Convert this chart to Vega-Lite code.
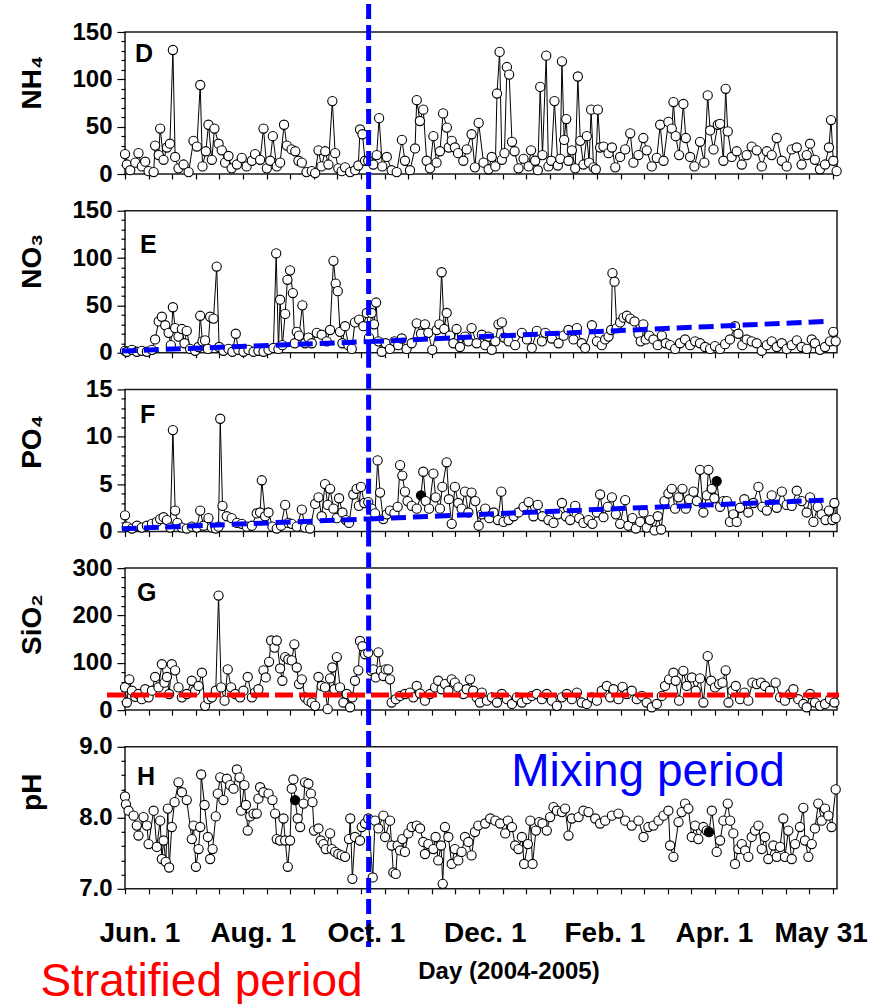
{
  "$schema": "https://vega.github.io/schema/vega-lite/v6.json",
  "background": "white",
  "padding": {"left": 17, "top": 0, "right": 0, "bottom": 0},
  "bounds": "flush",
  "spacing": 36.7,
  "config": {
    "view": {"stroke": "#1a1a1a", "strokeWidth": 1.5},
    "axis": {
      "labelFont": "Liberation Sans", "labelFontWeight": "bold", "labelFontSize": 24, "labelColor": "black",
      "titleFont": "Liberation Sans", "titleFontWeight": "bold", "titleFontSize": 28, "titleColor": "black",
      "tickColor": "black", "tickWidth": 1.2, "grid": false, "domain": false,
      "labelOverlap": false, "labelFlush": false, "labelBound": false
    },
    "text": {"font": "Liberation Sans"}
  },
  "datasets": {
    "nh4": [
      {"d":-8,"v":21},{"d":-7,"v":10},{"d":-5.2,"v":4},{"d":-2.5,"v":12},{"d":-0.8,"v":22},{"d":1,"v":8},{"d":2.8,"v":13},{"d":4.6,"v":3},{"d":7.3,"v":2},{"d":8.1,"v":30},
      {"d":10,"v":20},{"d":10.8,"v":48},{"d":12.6,"v":15},{"d":14.4,"v":28},{"d":16,"v":32},{"d":17.6,"v":131},{"d":18.8,"v":18},{"d":20.6,"v":6},{"d":23.3,"v":10},{"d":26,"v":2},
      {"d":28.6,"v":35},{"d":30.4,"v":29},{"d":32.2,"v":94},{"d":33.4,"v":8},{"d":35.2,"v":24},{"d":36.6,"v":52},{"d":38.4,"v":15},{"d":39.8,"v":48},{"d":42,"v":32},{"d":43.7,"v":25},
      {"d":45.5,"v":12},{"d":47.3,"v":19},{"d":49,"v":6},{"d":51.8,"v":10},{"d":54.4,"v":17},{"d":57,"v":8},{"d":59.8,"v":14},{"d":61.5,"v":21},{"d":64.2,"v":15},{"d":66,"v":48},
      {"d":67.8,"v":6},{"d":69.6,"v":14},{"d":71,"v":40},{"d":73.1,"v":8},{"d":74.9,"v":12},{"d":77,"v":52},{"d":78.5,"v":30},{"d":81,"v":26},{"d":83,"v":24},{"d":84.7,"v":14},
      {"d":86.5,"v":12},{"d":89,"v":2},{"d":91.8,"v":3},{"d":93.6,"v":1},{"d":95.4,"v":25},{"d":97,"v":8},{"d":99,"v":24},{"d":100.7,"v":10},{"d":102.8,"v":77},{"d":104.3,"v":22},
      {"d":106,"v":6},{"d":107.8,"v":3},{"d":109.6,"v":7},{"d":112.3,"v":2},{"d":115,"v":4},{"d":116.7,"v":9},{"d":117.6,"v":47},{"d":118.9,"v":42},{"d":120.3,"v":14},{"d":122,"v":14},
      {"d":124.7,"v":10},{"d":126.5,"v":20},{"d":127.8,"v":59},{"d":129.5,"v":8},{"d":131.9,"v":18},{"d":134.5,"v":4},{"d":137.2,"v":2},{"d":140,"v":36},{"d":141.6,"v":14},{"d":144.3,"v":4},
      {"d":147,"v":27},{"d":147.9,"v":78},{"d":149.6,"v":56},{"d":151.4,"v":68},{"d":153.2,"v":14},{"d":155,"v":6},{"d":156.8,"v":40},{"d":158.5,"v":12},{"d":160.3,"v":24},{"d":162,"v":64},
      {"d":164,"v":49},{"d":165,"v":28},{"d":166.6,"v":35},{"d":168.3,"v":28},{"d":170,"v":22},{"d":172.8,"v":14},{"d":174.6,"v":26},{"d":177.2,"v":42},{"d":179,"v":7},{"d":181,"v":54},
      {"d":183.6,"v":12},{"d":186.3,"v":5},{"d":188,"v":18},{"d":189.9,"v":8},{"d":190.8,"v":85},{"d":192.2,"v":129},{"d":193.4,"v":15},{"d":194.8,"v":22},{"d":196.1,"v":113},{"d":197.3,"v":105},
      {"d":198.8,"v":34},{"d":200.2,"v":24},{"d":202.3,"v":6},{"d":205,"v":16},{"d":207.7,"v":8},{"d":209,"v":25},{"d":211.2,"v":14},{"d":212.6,"v":4},{"d":213.9,"v":92},{"d":215.1,"v":20},
      {"d":217.1,"v":125},{"d":218.3,"v":8},{"d":219.8,"v":14},{"d":221.5,"v":77},{"d":223.3,"v":9},{"d":224.6,"v":16},{"d":225.5,"v":119},{"d":226.7,"v":36},{"d":227.8,"v":58},{"d":229,"v":14},
      {"d":230.8,"v":25},{"d":232.6,"v":6},{"d":234,"v":103},{"d":235.3,"v":35},{"d":237,"v":10},{"d":238.8,"v":40},{"d":240,"v":12},{"d":241.1,"v":68},{"d":242.4,"v":7},{"d":243.6,"v":5},
      {"d":244.7,"v":68},{"d":245.9,"v":28},{"d":247.7,"v":29},{"d":250.4,"v":22},{"d":252.2,"v":28},{"d":254,"v":7},{"d":256.6,"v":18},{"d":259.3,"v":26},{"d":262,"v":43},{"d":263.7,"v":12},
      {"d":266.4,"v":20},{"d":269,"v":38},{"d":270.8,"v":25},{"d":273.5,"v":8},{"d":276.2,"v":17},{"d":278,"v":52},{"d":279.8,"v":14},{"d":282.4,"v":55},{"d":284.2,"v":48},{"d":285.1,"v":76},
      {"d":286.3,"v":40},{"d":288.1,"v":20},{"d":290.4,"v":74},{"d":291.7,"v":38},{"d":294,"v":18},{"d":296.3,"v":8},{"d":299.3,"v":34},{"d":301.6,"v":12},{"d":303.4,"v":83},{"d":304.7,"v":46},
      {"d":306.5,"v":26},{"d":308.8,"v":52},{"d":310,"v":53},{"d":311.8,"v":14},{"d":313,"v":90},{"d":314.1,"v":45},{"d":316.2,"v":18},{"d":318.9,"v":24},{"d":321.6,"v":10},{"d":324.2,"v":20},
      {"d":326.9,"v":29},{"d":329.6,"v":25},{"d":332.3,"v":8},{"d":335,"v":24},{"d":337.6,"v":20},{"d":340.3,"v":38},{"d":343,"v":14},{"d":345.6,"v":8},{"d":348.3,"v":26},{"d":351,"v":28},
      {"d":353.6,"v":10},{"d":356.3,"v":20},{"d":358.1,"v":32},{"d":360.7,"v":15},{"d":363.4,"v":5},{"d":366.1,"v":10},{"d":368.2,"v":28},{"d":369.3,"v":57},{"d":370.5,"v":14},{"d":372.3,"v":3}
    ],
    "no3": [
      {"d":-8,"v":2},{"d":-7,"v":1},{"d":-4.3,"v":3},{"d":-1.6,"v":1},{"d":1,"v":2},{"d":3.7,"v":1},{"d":6.4,"v":3},{"d":8.1,"v":14},{"d":10,"v":33},{"d":11.7,"v":38},
      {"d":13.5,"v":29},{"d":15.3,"v":21},{"d":16.5,"v":8},{"d":17.6,"v":48},{"d":18.8,"v":26},{"d":20.6,"v":17},{"d":22.4,"v":25},{"d":23.8,"v":10},{"d":25,"v":23},{"d":26.8,"v":4},
      {"d":29.5,"v":2},{"d":31.3,"v":6},{"d":32.2,"v":39},{"d":33.4,"v":12},{"d":34.8,"v":13},{"d":36.3,"v":4},{"d":37.5,"v":38},{"d":39.3,"v":36},{"d":41,"v":91},{"d":42.3,"v":6},
      {"d":44.6,"v":2},{"d":47.3,"v":4},{"d":49.4,"v":1},{"d":51.2,"v":20},{"d":52.6,"v":3},{"d":55.3,"v":1},{"d":58,"v":3},{"d":60.7,"v":1},{"d":63.3,"v":2},{"d":66,"v":1},
      {"d":68.7,"v":3},{"d":71.3,"v":5},{"d":72.8,"v":105},{"d":74,"v":4},{"d":74.9,"v":56},{"d":76.1,"v":8},{"d":77.6,"v":41},{"d":78.8,"v":77},{"d":80.2,"v":87},{"d":81.7,"v":63},
      {"d":82.7,"v":10},{"d":83.8,"v":22},{"d":85,"v":18},{"d":86.8,"v":50},{"d":88.2,"v":10},{"d":90,"v":16},{"d":91.8,"v":10},{"d":94.5,"v":21},{"d":97.1,"v":19},{"d":99.8,"v":12},
      {"d":101.6,"v":24},{"d":103.4,"v":97},{"d":104.6,"v":73},{"d":105.7,"v":65},{"d":106.9,"v":22},{"d":108.2,"v":10},{"d":109.6,"v":28},{"d":111.4,"v":8},{"d":113.2,"v":4},{"d":114.9,"v":32},
      {"d":117.1,"v":35},{"d":119.4,"v":28},{"d":121.2,"v":42},{"d":122.4,"v":16},{"d":123.8,"v":42},{"d":125.1,"v":30},{"d":126.2,"v":53},{"d":127.4,"v":12},{"d":129.2,"v":1},{"d":131.3,"v":10},
      {"d":133.6,"v":4},{"d":136,"v":12},{"d":138,"v":8},{"d":139.9,"v":15},{"d":142.5,"v":4},{"d":145.2,"v":10},{"d":147.9,"v":31},{"d":150.2,"v":20},{"d":152.3,"v":30},{"d":154.1,"v":21},
      {"d":156.2,"v":3},{"d":158.6,"v":24},{"d":160,"v":30},{"d":161.2,"v":85},{"d":162.6,"v":25},{"d":163.9,"v":42},{"d":165.7,"v":18},{"d":167.5,"v":10},{"d":169.2,"v":25},{"d":171,"v":6},
      {"d":173.7,"v":17},{"d":175.5,"v":12},{"d":177.2,"v":26},{"d":179.9,"v":10},{"d":182.7,"v":19},{"d":184.5,"v":8},{"d":186.3,"v":17},{"d":188,"v":3},{"d":189.9,"v":12},{"d":191.6,"v":30},
      {"d":193.4,"v":32},{"d":194.7,"v":16},{"d":197,"v":12},{"d":200.5,"v":8},{"d":204.1,"v":21},{"d":206.8,"v":14},{"d":209.4,"v":5},{"d":212.1,"v":23},{"d":214.8,"v":12},{"d":216.6,"v":21},
      {"d":220.1,"v":15},{"d":223.7,"v":10},{"d":226.4,"v":18},{"d":229,"v":24},{"d":231.7,"v":14},{"d":233.5,"v":26},{"d":236.1,"v":10},{"d":237.9,"v":5},{"d":241.5,"v":29},{"d":244.2,"v":12},
      {"d":246.8,"v":8},{"d":248.6,"v":14},{"d":250.4,"v":17},{"d":251.8,"v":24},{"d":252.5,"v":84},{"d":253.6,"v":75},{"d":254.8,"v":26},{"d":256.6,"v":32},{"d":258.4,"v":37},{"d":260.2,"v":39},
      {"d":262,"v":36},{"d":264.3,"v":33},{"d":266.4,"v":20},{"d":267.6,"v":12},{"d":269,"v":30},{"d":270.3,"v":14},{"d":272.1,"v":18},{"d":274.4,"v":14},{"d":276.7,"v":8},{"d":278.9,"v":18},
      {"d":281,"v":10},{"d":283.3,"v":8},{"d":286,"v":4},{"d":288.6,"v":10},{"d":291.3,"v":14},{"d":294,"v":8},{"d":296.7,"v":12},{"d":299.3,"v":10},{"d":302,"v":6},{"d":304.7,"v":4},
      {"d":307.3,"v":7},{"d":310,"v":4},{"d":312.7,"v":9},{"d":315.3,"v":14},{"d":318,"v":28},{"d":319.8,"v":20},{"d":321.9,"v":8},{"d":324.2,"v":14},{"d":326.9,"v":12},{"d":329.6,"v":10},
      {"d":332.3,"v":2},{"d":335,"v":8},{"d":337.6,"v":12},{"d":340.3,"v":6},{"d":343,"v":10},{"d":345.6,"v":4},{"d":348.3,"v":8},{"d":351,"v":13},{"d":353.6,"v":6},{"d":356.3,"v":4},
      {"d":359,"v":14},{"d":360.7,"v":10},{"d":363.4,"v":3},{"d":366.1,"v":6},{"d":368.8,"v":12},{"d":370.5,"v":22},{"d":371.8,"v":12}
    ],
    "po4": [
      {"d":-8,"v":1.7},{"d":-7,"v":0.5},{"d":-4.3,"v":0.3},{"d":-1.6,"v":0.6},{"d":1,"v":0.4},{"d":3.7,"v":0.6},{"d":6.4,"v":0.8},{"d":9,"v":1.0},{"d":10.8,"v":1.3},{"d":12.6,"v":1.5},
      {"d":14.4,"v":1.2},{"d":16.2,"v":0.4},{"d":17.6,"v":10.7},{"d":18.8,"v":2.2},{"d":20,"v":0.9},{"d":22.4,"v":0.4},{"d":25,"v":0.3},{"d":27.7,"v":0.5},{"d":30.4,"v":0.4},{"d":32.2,"v":2.2},
      {"d":34,"v":0.6},{"d":36.6,"v":1.4},{"d":38.4,"v":0.4},{"d":40.5,"v":0.3},{"d":42,"v":0.5},{"d":42.9,"v":11.9},{"d":44.1,"v":2.7},{"d":46.4,"v":1.6},{"d":49,"v":1.4},{"d":51.8,"v":0.9},
      {"d":54.4,"v":0.8},{"d":57.1,"v":0.5},{"d":59.8,"v":0.6},{"d":62.4,"v":1.9},{"d":64.2,"v":2.0},{"d":65.1,"v":5.4},{"d":66.9,"v":1.6},{"d":68.7,"v":2.0},{"d":70.8,"v":0.5},{"d":73.1,"v":0.3},
      {"d":75.4,"v":0.6},{"d":77.6,"v":2.8},{"d":79.3,"v":0.9},{"d":81.1,"v":0.8},{"d":83.8,"v":0.5},{"d":86.5,"v":2.3},{"d":88.2,"v":0.4},{"d":90.9,"v":0.3},{"d":93.6,"v":2.9},{"d":95.4,"v":3.6},
      {"d":97.1,"v":1.6},{"d":98.9,"v":5.0},{"d":100.3,"v":2.8},{"d":101.6,"v":4.5},{"d":103.4,"v":2.4},{"d":105.2,"v":1.4},{"d":106.4,"v":3.5},{"d":108.2,"v":2.0},{"d":110,"v":1.2},{"d":111.7,"v":0.9},
      {"d":114,"v":3.9},{"d":115.8,"v":4.5},{"d":117,"v":2.7},{"d":118.1,"v":4.7},{"d":119.9,"v":3.0},{"d":122,"v":3.1},{"d":123.8,"v":2.4},{"d":125.6,"v":1.9},{"d":127,"v":7.5},{"d":128.3,"v":4.1},
      {"d":130,"v":1.3},{"d":131.9,"v":1.8},{"d":133.6,"v":2.2},{"d":136,"v":1.9},{"d":137.7,"v":2.6},{"d":139,"v":7.0},{"d":140.2,"v":5.9},{"d":141.6,"v":4.2},{"d":143,"v":3.2},{"d":145.2,"v":2.7},
      {"d":147.9,"v":2.4},{"d":150.2,"v":3.8,"k":1},{"d":151.4,"v":6.3},{"d":152.7,"v":3.2},{"d":154.5,"v":2.4},{"d":156.8,"v":6.1},{"d":158,"v":3.6},{"d":160.3,"v":2.4},{"d":161.6,"v":4.7},{"d":163.9,"v":7.3},
      {"d":165.1,"v":3.4},{"d":166.6,"v":0.8},{"d":168.3,"v":4.7},{"d":170.1,"v":3.0},{"d":171.9,"v":2.4},{"d":173.7,"v":4.2},{"d":175.5,"v":2.0},{"d":177.2,"v":4.1},{"d":179.2,"v":3.2},{"d":181,"v":0.6},
      {"d":182.7,"v":1.8},{"d":184.5,"v":2.4},{"d":186.7,"v":1.4},{"d":189,"v":2.0},{"d":191.3,"v":1.2},{"d":193.1,"v":4.2},{"d":194.3,"v":1.0},{"d":197,"v":1.2},{"d":199.7,"v":1.6},{"d":202.3,"v":2.0},
      {"d":205,"v":2.6},{"d":207.7,"v":3.1},{"d":210.3,"v":1.6},{"d":212.6,"v":2.8},{"d":215.1,"v":1.6},{"d":218.3,"v":1.2},{"d":221,"v":0.9},{"d":223.3,"v":1.8},{"d":225.5,"v":3.0},{"d":227.6,"v":1.6},
      {"d":229.9,"v":1.2},{"d":232.6,"v":2.7},{"d":234.7,"v":1.4},{"d":237,"v":0.9},{"d":239.7,"v":1.2},{"d":241.8,"v":0.8},{"d":244.2,"v":2.0},{"d":245.9,"v":3.9},{"d":247.7,"v":1.5},{"d":250,"v":2.6},
      {"d":252.2,"v":3.6},{"d":254.3,"v":1.8},{"d":256.6,"v":0.8},{"d":259.3,"v":3.3},{"d":261,"v":0.6},{"d":263.2,"v":1.4},{"d":265,"v":0.3},{"d":267.3,"v":1.0},{"d":269.1,"v":2.0},{"d":270.8,"v":0.4},
      {"d":272.6,"v":1.2},{"d":275,"v":0.1},{"d":276.7,"v":1.6},{"d":278.5,"v":0.2},{"d":280.3,"v":3.2},{"d":282.4,"v":4.0},{"d":284.2,"v":4.5},{"d":286,"v":2.4},{"d":287.8,"v":3.6},{"d":289.9,"v":4.5},
      {"d":291.7,"v":2.4},{"d":293.5,"v":3.4},{"d":295.8,"v":4.2},{"d":297.6,"v":3.2},{"d":299.3,"v":6.5},{"d":301.1,"v":2.0},{"d":302.9,"v":3.8},{"d":303.8,"v":6.5},{"d":305.6,"v":4.5},{"d":307,"v":3.5},
      {"d":308.2,"v":5.3,"k":1},{"d":310,"v":2.6},{"d":311.8,"v":3.2},{"d":313.6,"v":3.2},{"d":315.3,"v":1.0},{"d":317.1,"v":1.8},{"d":318.9,"v":1.0},{"d":320.7,"v":2.5},{"d":323,"v":3.4},{"d":325.1,"v":2.0},
      {"d":327.8,"v":3.0},{"d":330.5,"v":4.7},{"d":332.6,"v":2.6},{"d":335,"v":2.2},{"d":337.6,"v":3.8},{"d":340.3,"v":2.5},{"d":343,"v":4.2},{"d":345.6,"v":2.8},{"d":348.3,"v":2.7},{"d":351,"v":4.3},
      {"d":353.6,"v":3.2},{"d":356.3,"v":2.0},{"d":358.1,"v":3.6},{"d":359.9,"v":1.0},{"d":362.2,"v":2.6},{"d":364.3,"v":1.8},{"d":366.4,"v":1.2},{"d":368.2,"v":2.2},{"d":370,"v":1.2},{"d":371.1,"v":3.0},{"d":371.8,"v":1.4}
    ],
    "sio2": [
      {"d":-8,"v":48},{"d":-7,"v":16},{"d":-5.7,"v":65},{"d":-4.3,"v":41},{"d":-2.5,"v":28},{"d":-0.8,"v":34},{"d":1,"v":23},{"d":2.8,"v":44},{"d":4.6,"v":27},{"d":6.4,"v":41},
      {"d":8.1,"v":70},{"d":9.9,"v":48},{"d":11.7,"v":97},{"d":13.1,"v":58},{"d":14.4,"v":70},{"d":15.6,"v":34},{"d":17,"v":97},{"d":18.8,"v":84},{"d":20.6,"v":48},{"d":22.4,"v":27},
      {"d":25,"v":34},{"d":27.7,"v":62},{"d":29.5,"v":41},{"d":31.3,"v":51},{"d":33.1,"v":79},{"d":34.8,"v":9},{"d":36.6,"v":23},{"d":38.4,"v":27},{"d":40.5,"v":41},{"d":42,"v":242},
      {"d":43.4,"v":48},{"d":45.2,"v":20},{"d":46.9,"v":86},{"d":48.7,"v":48},{"d":50.9,"v":34},{"d":53.5,"v":27},{"d":55.3,"v":41},{"d":57.6,"v":70},{"d":59.8,"v":27},{"d":61.5,"v":37},
      {"d":63.3,"v":44},{"d":66,"v":84},{"d":67.2,"v":69},{"d":69,"v":102},{"d":70.1,"v":147},{"d":71.9,"v":132},{"d":73.1,"v":147},{"d":74.9,"v":88},{"d":76.1,"v":62},{"d":77.6,"v":112},
      {"d":79.3,"v":107},{"d":81.1,"v":105},{"d":82.5,"v":139},{"d":83.8,"v":90},{"d":85,"v":55},{"d":86.5,"v":65},{"d":88.2,"v":27},{"d":90,"v":20},{"d":91.8,"v":16},{"d":93.6,"v":9},
      {"d":95.4,"v":70},{"d":97.1,"v":51},{"d":98.9,"v":48},{"d":100.3,"v":2},{"d":101.6,"v":67},{"d":102.8,"v":90},{"d":103.9,"v":44},{"d":105.2,"v":112},{"d":106.9,"v":48},{"d":108.7,"v":16},
      {"d":110.5,"v":34},{"d":112.3,"v":6},{"d":113.5,"v":27},{"d":114.9,"v":62},{"d":116.7,"v":84},{"d":117.6,"v":146},{"d":118.9,"v":135},{"d":120.3,"v":118},{"d":122,"v":121},{"d":123.5,"v":83},
      {"d":124.7,"v":86},{"d":126,"v":69},{"d":127.4,"v":122},{"d":128.8,"v":83},{"d":130.1,"v":72},{"d":131.3,"v":86},{"d":132.7,"v":86},{"d":133.6,"v":65},{"d":134.5,"v":16},{"d":136.7,"v":23},
      {"d":139,"v":30},{"d":141.6,"v":34},{"d":144.3,"v":37},{"d":146.1,"v":27},{"d":147.9,"v":51},{"d":149.7,"v":35},{"d":152.3,"v":20},{"d":155,"v":34},{"d":157.7,"v":48},{"d":159.4,"v":62},
      {"d":161.2,"v":44},{"d":163,"v":55},{"d":164.8,"v":41},{"d":166.6,"v":65},{"d":168.3,"v":58},{"d":170.1,"v":48},{"d":172.8,"v":34},{"d":174.6,"v":44},{"d":176.4,"v":65},{"d":178.1,"v":41},
      {"d":179.9,"v":27},{"d":181.7,"v":16},{"d":182.7,"v":37},{"d":185.4,"v":20},{"d":188,"v":27},{"d":190.8,"v":16},{"d":193.4,"v":34},{"d":196.1,"v":23},{"d":198.8,"v":13},{"d":201.4,"v":27},
      {"d":204.1,"v":16},{"d":206.8,"v":23},{"d":209.4,"v":30},{"d":212.1,"v":34},{"d":214.8,"v":23},{"d":217.4,"v":34},{"d":220.1,"v":20},{"d":222.8,"v":9},{"d":225.5,"v":27},{"d":228.1,"v":34},
      {"d":230.8,"v":23},{"d":233.5,"v":37},{"d":236.1,"v":16},{"d":238.8,"v":13},{"d":241.5,"v":27},{"d":244.2,"v":20},{"d":246.8,"v":41},{"d":249.5,"v":51},{"d":251.3,"v":27},{"d":253.1,"v":44},
      {"d":255.7,"v":23},{"d":257.9,"v":49},{"d":260.2,"v":34},{"d":262.8,"v":41},{"d":265.5,"v":23},{"d":268.2,"v":30},{"d":270.8,"v":16},{"d":273.5,"v":6},{"d":276.2,"v":13},{"d":278.9,"v":30},
      {"d":280.6,"v":51},{"d":282.8,"v":65},{"d":285.1,"v":79},{"d":286.3,"v":62},{"d":288.1,"v":20},{"d":290.4,"v":83},{"d":292.2,"v":51},{"d":294.9,"v":69},{"d":297,"v":41},{"d":299.3,"v":67},
      {"d":301.1,"v":16},{"d":303.4,"v":114},{"d":305.2,"v":62},{"d":307.3,"v":48},{"d":309.5,"v":55},{"d":311.3,"v":58},{"d":313,"v":84},{"d":314.5,"v":16},{"d":316.6,"v":41},{"d":318.4,"v":51},
      {"d":320.7,"v":23},{"d":323,"v":37},{"d":325.1,"v":20},{"d":327.3,"v":58},{"d":329.6,"v":55},{"d":331.9,"v":58},{"d":334,"v":51},{"d":336.7,"v":41},{"d":339.7,"v":58},{"d":342.1,"v":27},
      {"d":344.7,"v":20},{"d":347.4,"v":34},{"d":349.2,"v":44},{"d":351.8,"v":23},{"d":354.5,"v":13},{"d":356.3,"v":6},{"d":358.1,"v":34},{"d":360.7,"v":16},{"d":363.4,"v":9},{"d":366.1,"v":13},
      {"d":368.8,"v":23},{"d":371.1,"v":16}
    ],
    "ph": [
      {"d":-8,"v":8.30},{"d":-7.5,"v":8.19},{"d":-6.1,"v":8.10},{"d":-3.4,"v":8.03},{"d":-1.7,"v":7.89},{"d":-0.8,"v":7.75},{"d":1.9,"v":8.01},{"d":3.7,"v":7.89},{"d":4.6,"v":7.63},{"d":7.3,"v":8.10},
      {"d":9,"v":7.59},{"d":10.8,"v":7.96},{"d":11.7,"v":7.42},{"d":12.6,"v":7.68},{"d":13.8,"v":7.38},{"d":14.9,"v":8.13},{"d":15.6,"v":7.30},{"d":17,"v":7.87},{"d":18.5,"v":8.22},{"d":20.6,"v":8.50},
      {"d":22.4,"v":8.36},{"d":25,"v":8.25},{"d":27.7,"v":7.70},{"d":28.6,"v":7.89},{"d":29.9,"v":7.31},{"d":31.3,"v":7.56},{"d":32.2,"v":7.87},{"d":32.7,"v":8.61},{"d":34.5,"v":8.18},{"d":36.3,"v":7.73},
      {"d":37.5,"v":7.42},{"d":38.8,"v":7.56},{"d":40.5,"v":8.02},{"d":41.6,"v":8.34},{"d":42.9,"v":8.57},{"d":44.6,"v":8.25},{"d":46.4,"v":8.55},{"d":48.2,"v":8.46},{"d":50,"v":8.41},{"d":51.8,"v":8.68},
      {"d":53.2,"v":8.57},{"d":54.1,"v":8.10},{"d":55.8,"v":8.46},{"d":56.6,"v":8.18},{"d":57.6,"v":7.82},{"d":58.9,"v":8.02},{"d":60.7,"v":8.06},{"d":62.4,"v":8.06},{"d":63.3,"v":8.27},{"d":64.2,"v":8.43},
      {"d":66,"v":8.36},{"d":68.7,"v":8.34},{"d":70.8,"v":8.25},{"d":72.2,"v":8.06},{"d":73.1,"v":7.70},{"d":74.9,"v":7.68},{"d":76.7,"v":7.99},{"d":77.6,"v":7.68},{"d":79,"v":7.31},{"d":80.2,"v":7.68},
      {"d":81.1,"v":8.41},{"d":82,"v":8.54},{"d":82.9,"v":8.25,"k":1},{"d":84.3,"v":7.99},{"d":85.6,"v":7.87},{"d":87.4,"v":8.20},{"d":88.2,"v":8.50},{"d":90,"v":8.48},{"d":91.3,"v":8.34},{"d":92.2,"v":8.22},
      {"d":93,"v":7.82},{"d":95.4,"v":7.85},{"d":96.6,"v":7.68},{"d":98,"v":7.63},{"d":99.3,"v":7.56},{"d":101.6,"v":7.78},{"d":102.5,"v":7.56},{"d":104.3,"v":7.52},{"d":106,"v":7.49},{"d":107.8,"v":7.47},
      {"d":109.6,"v":7.45},{"d":111.7,"v":7.70},{"d":112.4,"v":7.99},{"d":113.5,"v":7.14},{"d":114.9,"v":7.73},{"d":117.6,"v":7.68},{"d":118.5,"v":7.87},{"d":120.3,"v":7.92},{"d":122,"v":7.99},{"d":124.4,"v":7.16},
      {"d":125.6,"v":7.96},{"d":127.4,"v":7.85},{"d":130.1,"v":8.03},{"d":131,"v":7.73},{"d":133.6,"v":7.96},{"d":134.5,"v":7.61},{"d":135.4,"v":7.23},{"d":136.7,"v":7.21},{"d":137.7,"v":7.61},{"d":139,"v":7.54},
      {"d":140.2,"v":7.70},{"d":141.6,"v":7.52},{"d":143.4,"v":7.78},{"d":145.2,"v":7.87},{"d":147.9,"v":7.89},{"d":149.7,"v":7.85},{"d":151.4,"v":7.66},{"d":152.3,"v":7.49},{"d":154.1,"v":7.63},{"d":156.8,"v":7.56},
      {"d":158,"v":7.73},{"d":159.4,"v":7.40},{"d":160.9,"v":7.61},{"d":161.8,"v":7.07},{"d":163,"v":7.87},{"d":164.8,"v":7.73},{"d":166.6,"v":7.35},{"d":168.3,"v":7.56},{"d":170.1,"v":7.40},{"d":171.9,"v":7.52},
      {"d":173.7,"v":7.73},{"d":175.5,"v":7.66},{"d":177.2,"v":7.47},{"d":179,"v":7.80},{"d":180.8,"v":7.89},{"d":184.5,"v":7.92},{"d":187.2,"v":7.99},{"d":189.9,"v":7.96},{"d":192.5,"v":7.92},{"d":195.2,"v":7.78},
      {"d":196.6,"v":7.96},{"d":198.8,"v":7.87},{"d":200.5,"v":7.61},{"d":202.3,"v":7.56},{"d":204.1,"v":7.73},{"d":205.3,"v":7.35},{"d":207.3,"v":7.63},{"d":208.6,"v":7.96},{"d":209.8,"v":7.35},{"d":211.6,"v":7.82},
      {"d":213.4,"v":7.94},{"d":215.1,"v":7.92},{"d":217.4,"v":7.82},{"d":219.2,"v":8.01},{"d":221,"v":8.15},{"d":222.8,"v":8.10},{"d":225.5,"v":8.08},{"d":227.2,"v":8.13},{"d":229,"v":7.75},{"d":230.8,"v":7.99},
      {"d":234.4,"v":8.01},{"d":237,"v":8.10},{"d":239.7,"v":8.08},{"d":243.3,"v":7.99},{"d":245.9,"v":7.92},{"d":248.6,"v":7.96},{"d":252.2,"v":8.03},{"d":255.7,"v":8.06},{"d":259.3,"v":7.96},{"d":262.8,"v":7.89},
      {"d":266.4,"v":7.96},{"d":269.1,"v":7.73},{"d":271.7,"v":7.87},{"d":274.4,"v":7.89},{"d":277.1,"v":7.96},{"d":279.8,"v":8.03},{"d":282.4,"v":8.10},{"d":283.3,"v":7.61},{"d":285.1,"v":7.45},{"d":287.8,"v":7.94},
      {"d":289.5,"v":8.08},{"d":291.3,"v":8.20},{"d":293.1,"v":8.13},{"d":294.9,"v":7.73},{"d":296.7,"v":7.89},{"d":298.4,"v":7.70},{"d":301.1,"v":7.87},{"d":302.9,"v":7.82},{"d":304.1,"v":7.80,"k":1},{"d":305.6,"v":8.10},
      {"d":308.2,"v":7.52},{"d":310,"v":7.68},{"d":311.8,"v":7.96},{"d":314.1,"v":8.20},{"d":315.4,"v":7.96},{"d":317.1,"v":7.78},{"d":318,"v":7.35},{"d":319.8,"v":7.56},{"d":321.6,"v":7.63},{"d":323.4,"v":7.54},
      {"d":325.1,"v":7.45},{"d":326.9,"v":7.73},{"d":328.7,"v":7.82},{"d":330.5,"v":7.89},{"d":332.3,"v":7.56},{"d":334,"v":7.73},{"d":335.8,"v":7.42},{"d":338.5,"v":7.61},{"d":340.3,"v":7.45},{"d":342.1,"v":7.59},
      {"d":343.8,"v":7.99},{"d":344.7,"v":7.45},{"d":346.5,"v":7.82},{"d":348.3,"v":7.42},{"d":350.1,"v":7.63},{"d":352.7,"v":7.87},{"d":354.5,"v":8.14},{"d":355.4,"v":7.68},{"d":357.2,"v":7.45},{"d":359,"v":7.63},
      {"d":360.7,"v":7.85},{"d":362.5,"v":8.20},{"d":364.3,"v":7.96},{"d":366.1,"v":8.13},{"d":367.9,"v":8.03},{"d":369.6,"v":7.87},{"d":371.8,"v":8.40}
    ]
  },
  "vconcat": [
    {
      "width": 712, "height": 142,
      "encoding": {
        "x": {"field": "d", "type": "quantitative", "scale": {"domain": [-8, 372.5], "nice": false, "zero": false},
              "axis": {"values": [-8,4.61,17.22,29.83,42.44,55.05,67.66,80.27,92.88,105.49,118.1,130.71,143.32,155.93,168.54,181.15,193.76,206.37,218.98,231.59,244.2,256.81,269.42,282.03,294.64,307.25,319.86,332.47,345.08,357.69,370.3], "labels": false, "title": null, "tickSize": 5}},
        "y": {"field": "v", "type": "quantitative", "scale": {"domain": [0, 150], "nice": false, "zero": false},
              "axis": {"values": [0,10,20,30,40,50,60,70,80,90,100,110,120,130,140,150], "labelExpr": "datum.value % 50 == 0 ? datum.label : ''",
                       "tickSize": {"condition": {"test": "datum.value % 50 == 0", "value": 8}, "value": 4}, "labelPadding": 5,
                       "title": "NH₄", "titleAngle": -90, "titleX": -93, "titleY": 50, "titleAlign": "center", "titleBaseline": "middle"}}
      },
      "layer": [
        {"data": {"name": "nh4"}, "mark": {"type": "line", "color": "black", "strokeWidth": 1}},
        {"data": {"name": "nh4"}, "mark": {"type": "point", "shape": "circle", "filled": true, "size": 85, "fill": "white", "stroke": "black", "strokeWidth": 1.1, "opacity": 1}},
        {"data": {"values": [{"d": 122.2, "v": 179.5, "v2": 0}]}, "mark": {"type": "rule", "color": "#0000ff", "strokeWidth": 5, "strokeDash": [15, 6]}, "encoding": {"y2": {"field": "v2"}}},
        {"data": {"values": [{"d": -2.7, "v": 118.3, "t": "D"}]}, "mark": {"type": "text", "fontWeight": "bold", "fontSize": 25, "align": "left", "baseline": "alphabetic", "color": "black"}, "encoding": {"text": {"field": "t"}}}
      ]
    },
    {
      "width": 712, "height": 142,
      "encoding": {
        "x": {"field": "d", "type": "quantitative", "scale": {"domain": [-8, 372.5], "nice": false, "zero": false},
              "axis": {"values": [-8,4.61,17.22,29.83,42.44,55.05,67.66,80.27,92.88,105.49,118.1,130.71,143.32,155.93,168.54,181.15,193.76,206.37,218.98,231.59,244.2,256.81,269.42,282.03,294.64,307.25,319.86,332.47,345.08,357.69,370.3], "labels": false, "title": null, "tickSize": 5}},
        "y": {"field": "v", "type": "quantitative", "scale": {"domain": [0, 150], "nice": false, "zero": false},
              "axis": {"values": [0,10,20,30,40,50,60,70,80,90,100,110,120,130,140,150], "labelExpr": "datum.value % 50 == 0 ? datum.label : ''",
                       "tickSize": {"condition": {"test": "datum.value % 50 == 0", "value": 8}, "value": 4}, "labelPadding": 5,
                       "title": "NO₃", "titleAngle": -90, "titleX": -93, "titleY": 50, "titleAlign": "center", "titleBaseline": "middle"}}
      },
      "layer": [
        {"data": {"name": "no3"}, "mark": {"type": "line", "color": "black", "strokeWidth": 1}},
        {"data": {"name": "no3"}, "mark": {"type": "point", "shape": "circle", "filled": true, "size": 85, "fill": "white", "stroke": "black", "strokeWidth": 1.1, "opacity": 1}},
        {"data": {"values": [{"d": -9.7, "v": 1.8, "d2": 122.4, "v2": 11.7}, {"d": 122.4, "v": 11.7, "d2": 366, "v2": 33}]}, "mark": {"type": "rule", "color": "#0000ff", "strokeWidth": 5, "strokeDash": [15, 7]}, "encoding": {"x2": {"field": "d2"}, "y2": {"field": "v2"}}},
        {"data": {"values": [{"d": 122.2, "v": 188.8, "v2": 0}]}, "mark": {"type": "rule", "color": "#0000ff", "strokeWidth": 5, "strokeDash": [15, 6]}, "encoding": {"y2": {"field": "v2"}}},
        {"data": {"values": [{"d": 0, "v": 105.6, "t": "E"}]}, "mark": {"type": "text", "fontWeight": "bold", "fontSize": 25, "align": "left", "baseline": "alphabetic", "color": "black"}, "encoding": {"text": {"field": "t"}}}
      ]
    },
    {
      "width": 712, "height": 142,
      "encoding": {
        "x": {"field": "d", "type": "quantitative", "scale": {"domain": [-8, 372.5], "nice": false, "zero": false},
              "axis": {"values": [-8,4.61,17.22,29.83,42.44,55.05,67.66,80.27,92.88,105.49,118.1,130.71,143.32,155.93,168.54,181.15,193.76,206.37,218.98,231.59,244.2,256.81,269.42,282.03,294.64,307.25,319.86,332.47,345.08,357.69,370.3], "labels": false, "title": null, "tickSize": 5}},
        "y": {"field": "v", "type": "quantitative", "scale": {"domain": [0, 15], "nice": false, "zero": false},
              "axis": {"values": [0,1,2,3,4,5,6,7,8,9,10,11,12,13,14,15], "labelExpr": "datum.value % 5 == 0 ? datum.label : ''",
                       "tickSize": {"condition": {"test": "datum.value % 5 == 0", "value": 8}, "value": 4}, "labelPadding": 5,
                       "title": "PO₄", "titleAngle": -90, "titleX": -93, "titleY": 52, "titleAlign": "center", "titleBaseline": "middle"}}
      },
      "layer": [
        {"data": {"name": "po4"}, "mark": {"type": "line", "color": "black", "strokeWidth": 1}},
        {"data": {"name": "po4"}, "mark": {"type": "point", "shape": "circle", "filled": true, "size": 85, "stroke": "black", "strokeWidth": 1.1, "opacity": 1},
         "encoding": {"fill": {"condition": {"test": "datum.k == 1", "value": "black"}, "value": "white"}}},
        {"data": {"values": [{"d": -9.7, "v": 0.28, "d2": 122.4, "v2": 1.32}, {"d": 122.4, "v": 1.32, "d2": 366, "v2": 3.3}]}, "mark": {"type": "rule", "color": "#0000ff", "strokeWidth": 5, "strokeDash": [15, 7]}, "encoding": {"x2": {"field": "d2"}, "y2": {"field": "v2"}}},
        {"data": {"values": [{"d": 122.2, "v": 18.88, "v2": 0}]}, "mark": {"type": "rule", "color": "#0000ff", "strokeWidth": 5, "strokeDash": [15, 6]}, "encoding": {"y2": {"field": "v2"}}},
        {"data": {"values": [{"d": 0, "v": 11.5, "t": "F"}]}, "mark": {"type": "text", "fontWeight": "bold", "fontSize": 25, "align": "left", "baseline": "alphabetic", "color": "black"}, "encoding": {"text": {"field": "t"}}}
      ]
    },
    {
      "width": 712, "height": 142,
      "encoding": {
        "x": {"field": "d", "type": "quantitative", "scale": {"domain": [-8, 372.5], "nice": false, "zero": false},
              "axis": {"values": [-8,4.61,17.22,29.83,42.44,55.05,67.66,80.27,92.88,105.49,118.1,130.71,143.32,155.93,168.54,181.15,193.76,206.37,218.98,231.59,244.2,256.81,269.42,282.03,294.64,307.25,319.86,332.47,345.08,357.69,370.3], "labels": false, "title": null, "tickSize": 5}},
        "y": {"field": "v", "type": "quantitative", "scale": {"domain": [0, 300], "nice": false, "zero": false},
              "axis": {"values": [0,20,40,60,80,100,120,140,160,180,200,220,240,260,280,300], "labelExpr": "datum.value % 100 == 0 ? datum.label : ''",
                       "tickSize": {"condition": {"test": "datum.value % 100 == 0", "value": 8}, "value": 4}, "labelPadding": 5,
                       "title": "SiO₂", "titleAngle": -90, "titleX": -93, "titleY": 56, "titleAlign": "center", "titleBaseline": "middle"}}
      },
      "layer": [
        {"data": {"name": "sio2"}, "mark": {"type": "line", "color": "black", "strokeWidth": 1}},
        {"data": {"name": "sio2"}, "mark": {"type": "point", "shape": "circle", "filled": true, "size": 85, "fill": "white", "stroke": "black", "strokeWidth": 1.1, "opacity": 1}},
        {"data": {"values": [{"d": -17.6, "v": 32, "d2": 373.6}]}, "mark": {"type": "rule", "color": "#ff0000", "strokeWidth": 5, "strokeDash": [18, 6]}, "encoding": {"x2": {"field": "d2"}}},
        {"data": {"values": [{"d": 122.2, "v": 377.5, "v2": 0}]}, "mark": {"type": "rule", "color": "#0000ff", "strokeWidth": 5, "strokeDash": [15, 6]}, "encoding": {"y2": {"field": "v2"}}},
        {"data": {"values": [{"d": -1.6, "v": 230.3, "t": "G"}]}, "mark": {"type": "text", "fontWeight": "bold", "fontSize": 25, "align": "left", "baseline": "alphabetic", "color": "black"}, "encoding": {"text": {"field": "t"}}}
      ]
    },
    {
      "width": 712, "height": 142,
      "encoding": {
        "x": {"field": "d", "type": "quantitative", "scale": {"domain": [-8, 372.5], "nice": false, "zero": false},
              "axis": {"values": [-8,4.61,17.22,29.83,42.44,55.05,67.66,80.27,92.88,105.49,118.1,130.71,143.32,155.93,168.54,181.15,193.76,206.37,218.98,231.59,244.2,256.81,269.42,282.03,294.64,307.25,319.86,332.47,345.08,357.69,370.3], "labels": false, "title": null, "tickSize": 5}},
        "y": {"field": "v", "type": "quantitative", "scale": {"domain": [7, 9], "nice": false, "zero": false},
              "axis": {"values": [7,7.2,7.4,7.6,7.8,8,8.2,8.4,8.6,8.8,9], "labelExpr": "abs(datum.value - round(datum.value)) < 0.001 ? format(datum.value, '.1f') : ''",
                       "tickSize": {"condition": {"test": "abs(datum.value - round(datum.value)) < 0.001", "value": 8}, "value": 4}, "labelPadding": 5,
                       "title": "pH", "titleAngle": -90, "titleX": -93, "titleY": 45, "titleAlign": "center", "titleBaseline": "middle"}}
      },
      "layer": [
        {"data": {"name": "ph"}, "mark": {"type": "line", "color": "black", "strokeWidth": 1}},
        {"data": {"name": "ph"}, "mark": {"type": "point", "shape": "circle", "filled": true, "size": 85, "stroke": "black", "strokeWidth": 1.1, "opacity": 1},
         "encoding": {"fill": {"condition": {"test": "datum.k == 1", "value": "black"}, "value": "white"}}},
        {"data": {"values": [{"d": 122.2, "v": 9.517, "v2": 6.18}]}, "mark": {"type": "rule", "color": "#0000ff", "strokeWidth": 5, "strokeDash": [15, 6]}, "encoding": {"y2": {"field": "v2"}}},
        {"data": {"values": [{"d": -1.6, "v": 8.46, "t": "H"}]}, "mark": {"type": "text", "fontWeight": "bold", "fontSize": 25, "align": "left", "baseline": "alphabetic", "color": "black"}, "encoding": {"text": {"field": "t"}}},
        {"data": {"values": [{"d": 271.5, "v": 8.448, "t": "Mixing period"}]}, "mark": {"type": "text", "fontSize": 46, "align": "center", "baseline": "alphabetic", "color": "#0000ff"}, "encoding": {"text": {"field": "t"}}},
        {"data": {"values": [
          {"d": 0, "v": 6.25, "t": "Jun. 1"}, {"d": 60.5, "v": 6.25, "t": "Aug. 1"}, {"d": 121, "v": 6.25, "t": "Oct. 1"},
          {"d": 184.5, "v": 6.25, "t": "Dec. 1"}, {"d": 248.5, "v": 6.25, "t": "Feb. 1"}, {"d": 307, "v": 6.25, "t": "Apr. 1"}, {"d": 364, "v": 6.25, "t": "May 31"}]},
         "mark": {"type": "text", "fontWeight": "bold", "fontSize": 28, "align": "center", "baseline": "alphabetic", "color": "black"}, "encoding": {"text": {"field": "t"}}},
        {"data": {"values": [{"d": 197.2, "v": 5.73, "t": "Day (2004-2005)"}]}, "mark": {"type": "text", "fontWeight": "bold", "fontSize": 24, "align": "center", "baseline": "alphabetic", "color": "black"}, "encoding": {"text": {"field": "t"}}},
        {"data": {"values": [{"d": 32.9, "v": 5.49, "t": "Stratified period"}]}, "mark": {"type": "text", "fontSize": 46, "align": "center", "baseline": "alphabetic", "color": "#ff0000"}, "encoding": {"text": {"field": "t"}}}
      ]
    }
  ]
}
